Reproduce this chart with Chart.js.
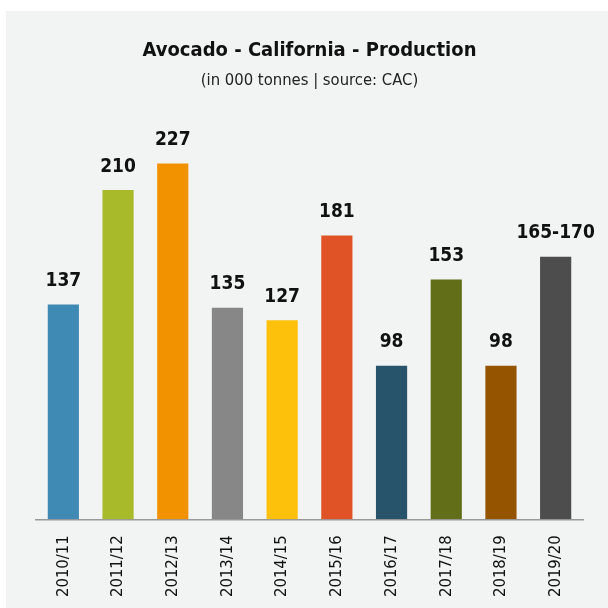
<!DOCTYPE html>
<html>
<head>
<meta charset="utf-8">
<script src="https://cdn.jsdelivr.net/npm/chart.js@4"></script>
<style>
  body { margin: 0; background: #fff; }
  #panel { position: absolute; left: 6px; top: 11px; width: 602px; height: 597px; background: #f2f3f3; }
</style>
</head>
<body>
<div id="panel"><canvas id="avocado" width="602" height="597"></canvas></div>
<script>
const seasons = ['2010/11', '2011/12', '2012/13', '2013/14', '2014/15', '2015/16', '2016/17', '2017/18', '2018/19', '2019/20']
const production = [137, 210, 227, 135, 127, 181, 98, 153, 98, 167.5]
const valueLabels = ['137', '210', '227', '135', '127', '181', '98', '153', '98', '165-170']
const barColors = ['#3f8ab4', '#a8b92a', '#f39200', '#878787', '#fdc10c', '#e05327', '#27546b', '#636e19', '#955500', '#4d4d4d']

const FONT = '"Liberation Sans Narrow", "DejaVu Sans Condensed", sans-serif'

// draw the value above every bar
const topLabels = {
    id: 'topLabels',
    afterDatasetsDraw(chart) {
        const ctx = chart.ctx
        const meta = chart.getDatasetMeta(0)
        ctx.save()
        ctx.font = 'bold 19px ' + FONT
        ctx.fillStyle = '#111'
        ctx.textAlign = 'center'
        ctx.textBaseline = 'bottom'
        meta.data.forEach((bar, i) => {
            ctx.fillText(valueLabels[i], bar.x, bar.y - 14)
        })
        ctx.restore()
    }
}

let avocadoChart = new Chart(document.getElementById('avocado'), {
    type: 'bar',
    data: {
        labels: seasons,
        datasets: [{
            data: production,
            backgroundColor: barColors,
            borderWidth: 0,
            categoryPercentage: 1,
            barPercentage: 0.57
        }]
    },
    options: {
        responsive: false,
        animation: false,
        layout: { padding: { left: 30, right: 25, top: 0, bottom: -5 } },
        plugins: {
            legend: { display: false },
            tooltip: { enabled: false },
            title: {
                display: true,
                text: 'Avocado - California - Production',
                color: '#111',
                font: { family: FONT, size: 20, weight: 'bold' },
                padding: { top: 28, bottom: 8 }
            },
            subtitle: {
                display: true,
                text: '(in 000 tonnes | source: CAC)',
                color: '#222',
                font: { family: FONT, size: 16.5 },
                padding: { bottom: 35 }
            }
        },
        scales: {
            x: {
                grid: { display: false, drawTicks: false },
                border: { color: '#999', width: 1.5 },
                ticks: {
                    color: '#111',
                    font: { family: FONT, size: 16.5 },
                    maxRotation: 90,
                    minRotation: 90,
                    padding: 16
                }
            },
            y: {
                display: false,
                min: 0,
                max: 251
            }
        }
    },
    plugins: [topLabels]
})
</script>
</body>
</html>
